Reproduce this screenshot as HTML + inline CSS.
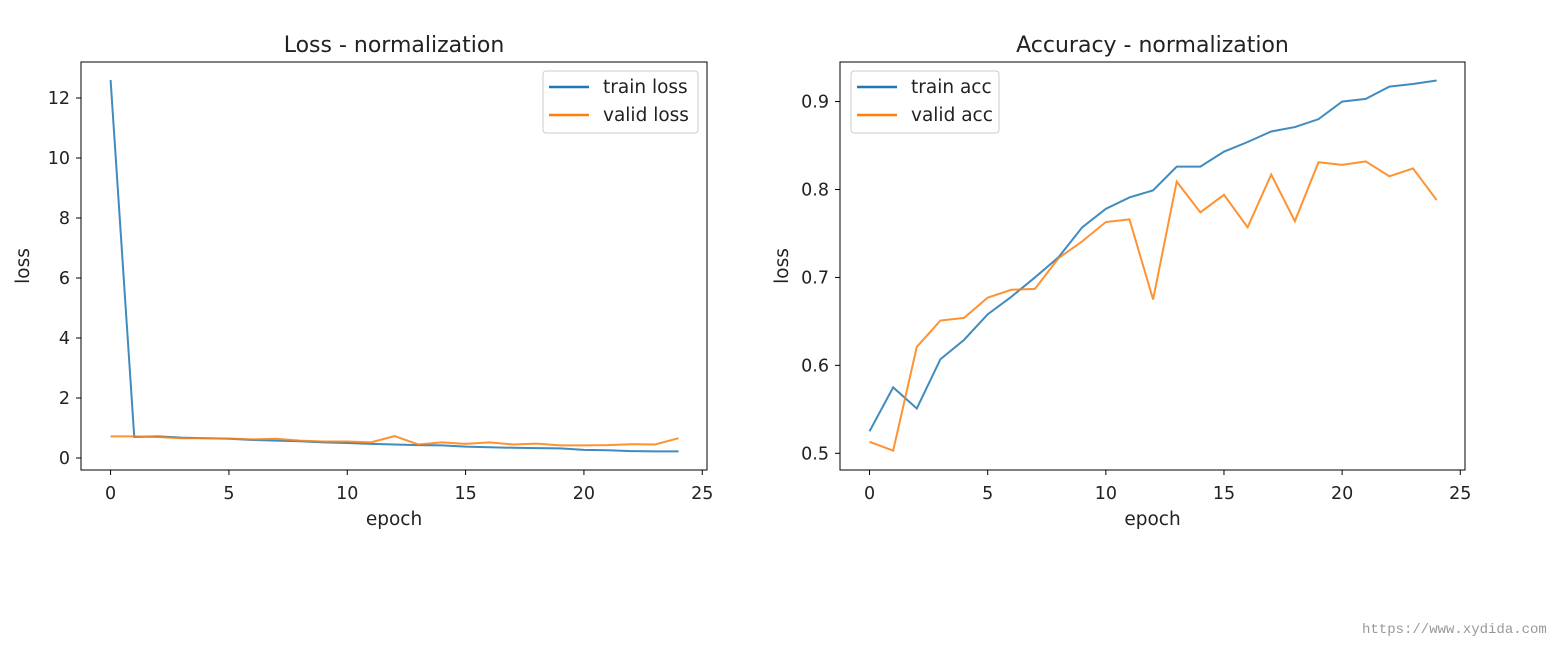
<!DOCTYPE html>
<html><head><meta charset="utf-8"><style>
body{margin:0;background:#fff;width:1560px;height:650px;overflow:hidden;font-family:"DejaVu Sans","Liberation Sans",sans-serif}
svg text{font-family:"DejaVu Sans","Liberation Sans",sans-serif;fill:#222}
</style></head><body>
<svg id="s" width="1560" height="650"></svg>
<div style="position:absolute;left:1362px;top:622px;font-family:'Liberation Mono',monospace;font-size:14px;color:#999">https://www.xydida.com</div>
<script>
const epochs=[0,1,2,3,4,5,6,7,8,9,10,11,12,13,14,15,16,17,18,19,20,21,22,23,24];
const trainLoss=[12.6,0.7,0.72,0.68,0.66,0.64,0.6,0.58,0.56,0.52,0.5,0.47,0.45,0.43,0.42,0.38,0.36,0.34,0.33,0.32,0.27,0.26,0.23,0.22,0.22];
const validLoss=[0.72,0.72,0.7,0.66,0.66,0.65,0.62,0.64,0.58,0.55,0.55,0.52,0.73,0.45,0.52,0.47,0.52,0.45,0.48,0.42,0.42,0.43,0.46,0.45,0.66];
const trainAcc=[0.525,0.575,0.551,0.607,0.629,0.658,0.678,0.70,0.723,0.757,0.778,0.791,0.799,0.826,0.826,0.843,0.854,0.866,0.871,0.880,0.900,0.903,0.917,0.920,0.924];
const validAcc=[0.513,0.503,0.621,0.651,0.654,0.677,0.686,0.687,0.722,0.741,0.763,0.766,0.675,0.809,0.774,0.794,0.757,0.817,0.764,0.831,0.828,0.832,0.815,0.824,0.788];
const xTicks=[0,5,10,15,20,25];
const lossTicks=[0,2,4,6,8,10,12];
const accTicks=[0.5,0.6,0.7,0.8,0.9];
const NS='http://www.w3.org/2000/svg';
const svg=document.getElementById('s');
function el(t,a,p){const e=document.createElementNS(NS,t);for(const k in a)e.setAttribute(k,a[k]);(p||svg).appendChild(e);return e;}
function panel(o){
 const g=el('g',{});
 
 
 const X=v=>o.l+(v-o.x0)/(o.x1-o.x0)*(o.r-o.l);
 const Y=v=>o.b-(v-o.y0)/(o.y1-o.y0)*(o.b-o.t);
 [[o.s1,'#1f77b4',o.n1],[o.s2,'#ff7f0e',o.n2]].forEach(([s,c,n])=>{
  const p=el('polyline',{points:s.map((v,i)=>X(epochs[i])+','+Y(v)).join(' '),fill:'none',stroke:c,'stroke-width':2,'stroke-opacity':0.85},g);
  
  
 });
 const fr=el('rect',{x:o.l,y:o.t,width:o.r-o.l,height:o.b-o.t,fill:'none',stroke:'#000','stroke-width':1},g);
 
 
 xTicks.forEach(v=>{const x=X(v);el('line',{x1:x,x2:x,y1:o.b,y2:o.b+5,stroke:'#000'},g);
  const t=el('text',{x:x,y:o.b+29,'text-anchor':'middle','font-size':17.5},g);t.textContent=v;
  
  });
 o.yt.forEach(v=>{const y=Y(v);el('line',{x1:o.l-5,x2:o.l,y1:y,y2:y,stroke:'#000'},g);
  const t=el('text',{x:o.l-11,y:y+6,'text-anchor':'end','font-size':17.5},g);t.textContent=o.fmt(v);
  
  });
 const ti=el('text',{x:(o.l+o.r)/2,y:52,'text-anchor':'middle','font-size':22},g);ti.textContent=o.title;
 
 
 const xl=el('text',{x:(o.l+o.r)/2,y:525,'text-anchor':'middle','font-size':18.5},g);xl.textContent='epoch';
 
 
 const yl=el('text',{x:0,y:0,'text-anchor':'middle','font-size':18.5,transform:`translate(${o.l-52},${(o.t+o.b)/2}) rotate(-90)`},g);yl.textContent='loss';
 
 
 const lg=el('g',{},g);
 
 
 el('rect',{x:o.lx,y:71,width:o.lw,height:62,rx:3,fill:'#fff','fill-opacity':0.8,stroke:'#ccc'},lg);
 [[o.n1,'#1f77b4',93],[o.n2,'#ff7f0e',121]].forEach(([n,c,y])=>{
  el('line',{x1:o.lx+6,x2:o.lx+46,y1:y-6,y2:y-6,stroke:c,'stroke-width':2.5},lg);
  const t=el('text',{x:o.lx+60,y:y,'font-size':18.5},lg);t.textContent=n;
  
  
 });
}
panel({name:'loss-chart',l:81,r:707,t:62,b:470,x0:-1.25,x1:25.2,y0:-0.4,y1:13.2,s1:trainLoss,s2:validLoss,n1:'train loss',n2:'valid loss',yt:lossTicks,fmt:v=>v,title:'Loss - normalization',lx:543,lw:155});
panel({name:'accuracy-chart',l:840,r:1465,t:62,b:470,x0:-1.25,x1:25.2,y0:0.481,y1:0.945,s1:trainAcc,s2:validAcc,n1:'train acc',n2:'valid acc',yt:accTicks,fmt:v=>v.toFixed(1),title:'Accuracy - normalization',lx:851,lw:148});
</script>
</body></html>
